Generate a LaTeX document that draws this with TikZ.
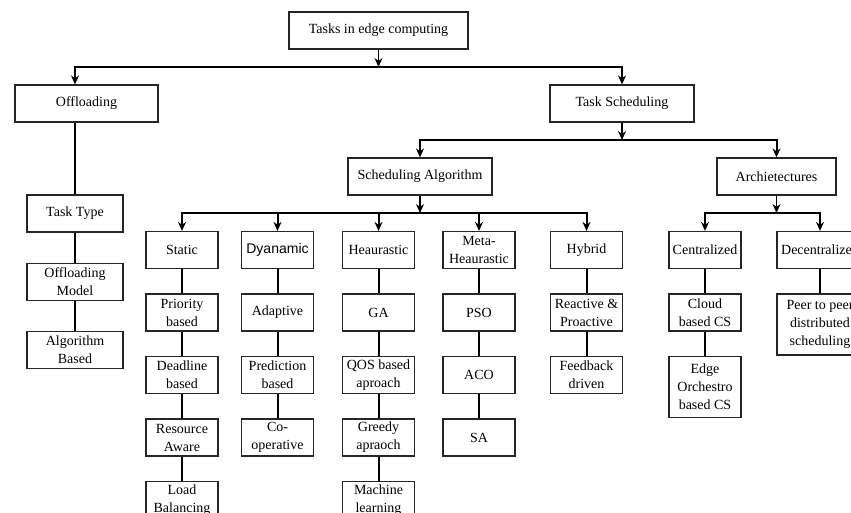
\documentclass[tikz,border=0pt]{standalone}
\usepackage{fontspec}
\setmainfont{Liberation Serif}
\newfontfamily\arialfont{Liberation Sans}
\usetikzlibrary{arrows.meta,positioning}
\tikzset{
  basebox/.style={rectangle,draw=black!85,line width=1.2pt,align=center,inner sep=2pt,font=\fontsize{14}{18}\selectfont},
  topnode/.style={basebox,minimum height=37pt},
  leafnode/.style={basebox,minimum width=72pt,minimum height=37pt},
  tallnode/.style={leafnode,minimum height=61pt},
  link/.style={line width=2pt},
  busarr/.style={link,line join=miter,{Stealth[length=9pt,width=8pt]}-{Stealth[length=9pt,width=8pt]}},
  droparr/.style={link,-{Stealth[length=9pt,width=8pt]}},
  feedarr/.style={line width=1.3pt,-{Stealth[length=9pt,width=8pt]}}
}

\begin{document}
\begin{tikzpicture}[x=1pt,y=-1pt,node distance=24.3pt]
  \useasboundingbox (0,0) rectangle (851,513);
  \clip (0,0) rectangle (851,513);
  \fill[white] (0,0) rectangle (851,513);

  %% Upper levels
  \node[topnode,minimum width=179pt] (root) at (378.5,30.5) {Tasks in edge computing};
  \node[topnode,minimum width=143pt] (offl) at (86.5,103.5) {Offloading};
  \node[topnode,minimum width=144pt] (tsched) at (622,103.5) {Task Scheduling};
  \node[topnode,minimum width=144pt] (salgo) at (420,176.5) {Scheduling Algorithm};
  \node[topnode,minimum width=119pt] (arch) at (776.5,176.5) {Archietectures};

  %% Offloading column
  \node[leafnode,minimum width=96pt] (ttype) at (75,213.5) {Task Type};
  \node[leafnode,minimum width=96pt,below=30pt of ttype] (omodel) {Offloading\\Model};
  \node[leafnode,minimum width=96pt,below=30pt of omodel] (abased) {Algorithm\\Based};

  %% Scheduling algorithm columns
  \node[leafnode] (static) at (182,250) {Static};
  \node[leafnode,below=of static] (prio) {Priority\\based};
  \node[leafnode,below=of prio] (dead) {Deadline\\based};
  \node[leafnode,below=of dead] (resaware) {Resource\\Aware};
  \node[leafnode,below=of resaware] (loadbal) {Load\\Balancing};

  \node[leafnode] (dyn) at (277.5,250) {\arialfont Dyanamic};
  \node[leafnode,below=of dyn] (adapt) {Adaptive};
  \node[leafnode,below=of adapt] (predict) {Prediction\\based};
  \node[leafnode,below=of predict] (coop) {Co-\\operative};

  \node[leafnode] (heur) at (378.5,250) {Heaurastic};
  \node[leafnode,below=of heur] (ga) {GA};
  \node[leafnode,below=of ga] (qos) {QOS based\\aproach};
  \node[leafnode,below=of qos] (greedy) {Greedy\\apraoch};
  \node[leafnode,below=of greedy] (mlearn) {Machine\\learning};

  \node[leafnode] (meta) at (479,250) {Meta-\\Heaurastic};
  \node[leafnode,below=of meta] (pso) {PSO};
  \node[leafnode,below=of pso] (aco) {ACO};
  \node[leafnode,below=of aco] (sann) {SA};

  \node[leafnode] (hybrid) at (586.5,250) {Hybrid};
  \node[leafnode,below=of hybrid] (reactive) {Reactive \&\\Proactive};
  \node[leafnode,below=of reactive] (feedback) {Feedback\\driven};

  %% Architecture columns
  \node[leafnode] (central) at (705,250) {Centralized};
  \node[leafnode,below=of central] (cloudcs) {Cloud\\based CS};
  \node[tallnode,below=of cloudcs] (edgecs) {Edge\\Orchestro\\based CS};

  \node[leafnode,minimum width=86pt] (decentral) at (820,250) {Decentralized};
  \node[tallnode,minimum width=86pt,below=of decentral] (p2p) {Peer to peer\\distributed\\scheduling};

  %% Buses
  \coordinate (bus1) at (0,67);
  \coordinate (bus2) at (0,140);
  \coordinate (bus3) at (0,213);

  \draw[feedarr] (root.south) -- (root.south |- bus1);
  \draw[busarr] (ttype.north |- offl.north) |- (root.south |- bus1) -| (tsched.north);

  \draw[feedarr] (tsched.south) -- (tsched.south |- bus2);
  \draw[busarr] (salgo.north) |- (tsched.south |- bus2) -| (arch.north);

  \draw[feedarr] (salgo.south) -- (salgo.south |- bus3);
  \draw[busarr] (static.north) |- (salgo.south |- bus3) -| (hybrid.north);
  \foreach \n in {dyn,heur,meta}
    \draw[droparr] (\n.north |- bus3) -- (\n.north);

  \draw[feedarr] (arch.south) -- (arch.south |- bus3);
  \draw[busarr] (central.north) |- (arch.south |- bus3) -| (decentral.north);

  %% Vertical links
  \draw[link] (offl.south -| ttype.north) -- (ttype.north);
  \draw[link] (ttype) -- (omodel) -- (abased);
  \draw[link] (static) -- (prio) -- (dead) -- (resaware) -- (loadbal);
  \draw[link] (dyn) -- (adapt) -- (predict) -- (coop);
  \draw[link] (heur) -- (ga) -- (qos) -- (greedy) -- (mlearn);
  \draw[link] (meta) -- (pso) -- (aco) -- (sann);
  \draw[link] (hybrid) -- (reactive) -- (feedback);
  \draw[link] (central) -- (cloudcs) -- (edgecs);
  \draw[link] (decentral) -- (p2p);
\end{tikzpicture}
\end{document}
